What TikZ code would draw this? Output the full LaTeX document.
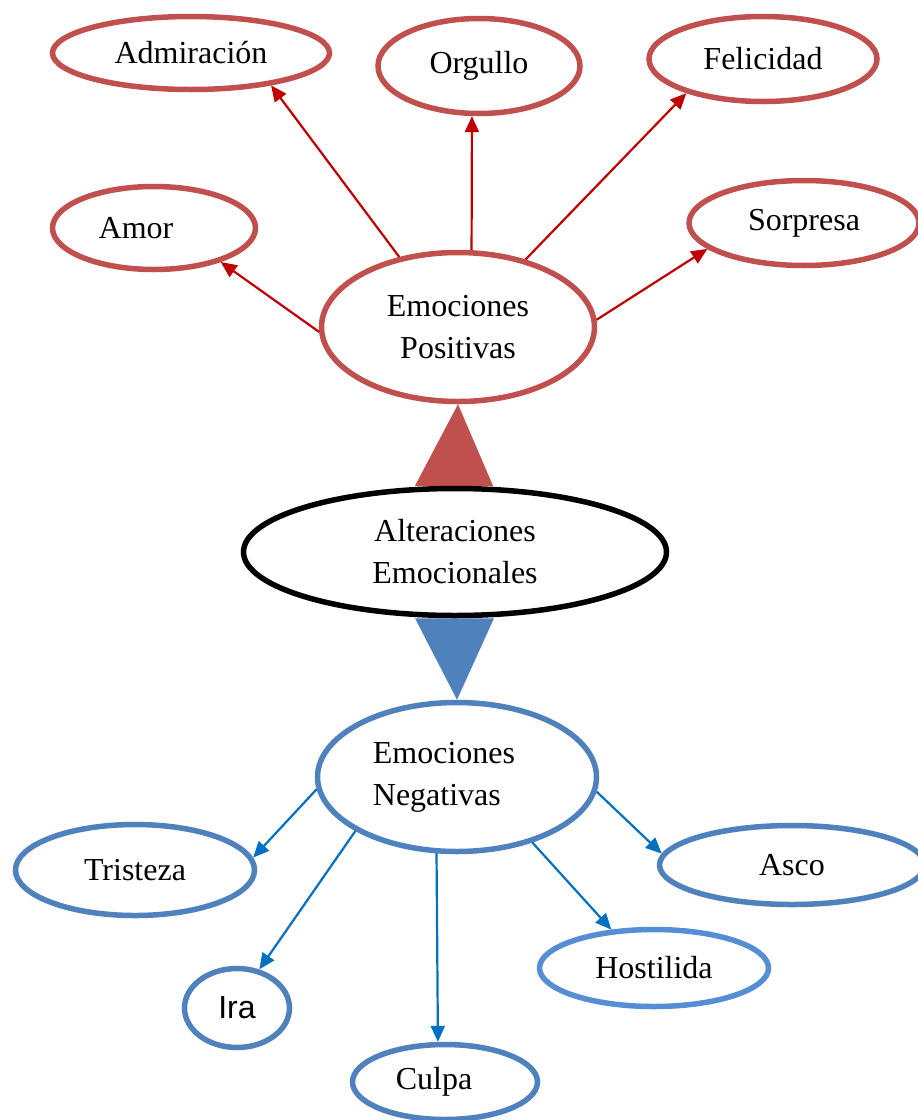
\documentclass[tikz,border=0pt]{standalone}
\usepackage{fontspec}
\setmainfont{Liberation Serif}
\newfontfamily\arialfont{Liberation Sans}
\usetikzlibrary{arrows.meta, calc, shapes.geometric, backgrounds}
\definecolor{posred}{RGB}{192,80,77}
\definecolor{posdark}{RGB}{192,0,0}
\definecolor{negblue}{RGB}{79,129,189}
\definecolor{negdark}{RGB}{0,112,192}
\definecolor{hostblue}{RGB}{85,142,213}

\begin{document}
\begin{tikzpicture}[x=1pt, y=-1pt,
  emobox/.style={ellipse, draw, line width=5.5pt, fill=white, inner sep=0pt, font=\fontsize{32}{42}\selectfont, align=center},
  posbox/.style={emobox, draw=posred},
  negbox/.style={emobox, draw=negblue},
  posedge/.style={posdark, line width=2.2pt, -{Triangle[length=16pt,width=14pt]}},
  negedge/.style={negdark, line width=2.2pt, -{Triangle[length=16pt,width=14pt]}}]
  \useasboundingbox (0,0) rectangle (918,1120);
  % Centre
  \node[emobox, minimum width=423, minimum height=127] (alteraciones) at (455,552) {Alteraciones\\Emocionales};
  % Positive emotions
  \node[posbox, minimum width=273, minimum height=149] (positivas) at (458,327) {Emociones\\Positivas};
  \node[posbox, minimum width=277, minimum height=73] (admiracion) at (191,53) {Admiración};
  \node[posbox, minimum width=202, minimum height=95] (orgullo) at (479,66) {Orgullo};
  \node[posbox, minimum width=228, minimum height=85] (felicidad) at (763,59) {Felicidad};
  \node[posbox, minimum width=203, minimum height=83] (amor) at (154,228) {\hspace*{-36pt}Amor};
  \node[posbox, minimum width=230, minimum height=85] (sorpresa) at (804,223) {Sorpresa};
  % Negative emotions
  \node[negbox, minimum width=279, minimum height=149, align=left] (negativas) at (457,777) {\hspace*{-26pt}Emociones\\\hspace*{-26pt}Negativas};
  \node[negbox, minimum width=239, minimum height=91] (tristeza) at (135,870) {Tristeza};
  \node[negbox, minimum width=265, minimum height=79] (asco) at (792,865) {Asco};
  \node[negbox, draw=hostblue, minimum width=229, minimum height=77] (hostilida) at (654,968) {Hostilida};
  \node[negbox, minimum width=105, minimum height=79, font=\arialfont\fontsize{32}{42}\selectfont] (ira) at (237,1008) {Ira};
  \node[negbox, minimum width=185, minimum height=75] (culpa) at (445,1082) {\hspace*{-22pt}Culpa};
  % Big triangles
  \begin{scope}[on background layer]
    \fill[posred] ($(alteraciones.north)+(-40,0)$) -- (positivas.south) -- ($(alteraciones.north)+(38,0)$) -- cycle;
    \fill[negblue] ($(alteraciones.south)+(-40,0)$) -- (negativas.north) -- ($(alteraciones.south)+(39,0)$) -- cycle;
  \end{scope}
  % Positive arrows
  \draw[posedge] (positivas.182) -- (amor.333);
  \draw[posedge] (positivas.130) -- (admiracion.-22);
  \draw[posedge] (positivas.80) -- (orgullo.262);
  \draw[posedge] (positivas.45) -- (felicidad.204);
  \draw[posedge] (positivas.3) -- (sorpresa.195);
  % Negative arrows
  \draw[negedge] (negativas.185) -- (tristeza.6);
  \draw[negedge] (negativas.208) -- (ira.60);
  \draw[negedge] (negativas.255) -- (culpa.100);
  \draw[negedge] (negativas.319) -- (hostilida.138);
  \draw[negedge] (negativas.354) -- (asco.175);
\end{tikzpicture}
\end{document}
